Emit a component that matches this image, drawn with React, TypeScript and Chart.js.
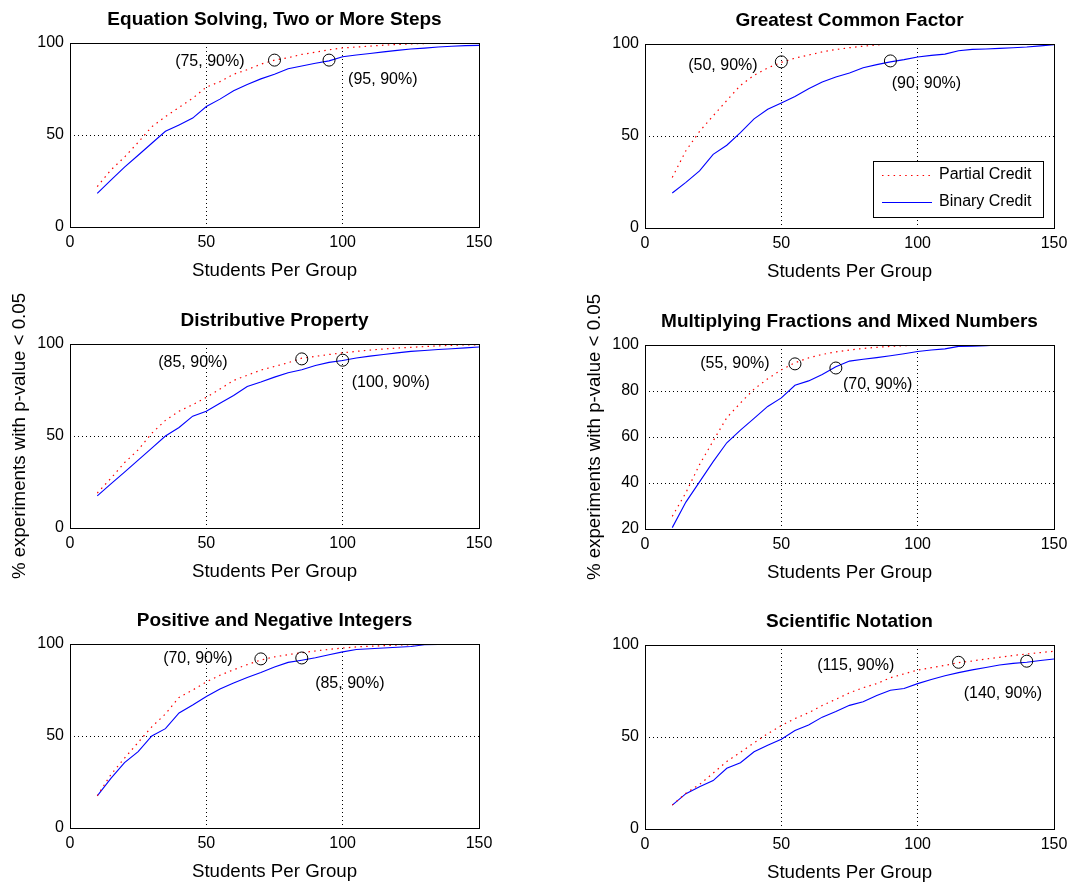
import React, { useEffect, useRef } from 'react';
import { Chart, registerables } from 'chart.js';

Chart.register(...registerables);

const FONT = "'Liberation Sans', Arial, Helvetica, sans-serif";

// ---------- data ----------
const groupSizes = [10, 15, 20, 25, 30, 35, 40, 45, 50, 55, 60, 65, 70, 75, 80, 85, 90, 95, 100, 105, 110, 115, 120, 125, 130, 135, 140, 145, 150];

const panelTitles = [
  'Equation Solving, Two or More Steps',
  'Greatest Common Factor',
  'Distributive Property',
  'Multiplying Fractions and Mixed Numbers',
  'Positive and Negative Integers',
  'Scientific Notation',
];

const partialEquation = [22, 31, 38, 46, 54.5, 60, 65, 70, 76, 79, 83, 85.5, 88.5, 90.7, 92, 93.8, 95, 96.3, 97.3, 97.8, 98.3, 98.8, 99.2, 99.5, 99.7, 99.9, 100, 100, 100];
const binaryEquation = [18.3, 25.5, 32.5, 39, 45.5, 52, 55.5, 59.2, 65.5, 69.5, 74, 77.5, 80.5, 83, 86, 87.5, 89, 90.3, 92.5, 93.5, 94.3, 95.2, 96, 96.7, 97.2, 97.8, 98.2, 98.6, 98.7];

const partialGcf = [27.5, 42, 52.5, 61, 69.3, 77.5, 83, 87, 90, 92.3, 94, 95.7, 97, 98, 98.8, 99.5, 100, 100, 100, 100, 100, 100, 100, 100, 100, 100, 100, 100, 100];
const binaryGcf = [19, 24.8, 31, 40, 45, 51.8, 59.3, 64.5, 68, 71.5, 75.7, 79.3, 82.1, 84.2, 87.1, 88.8, 90.3, 91.5, 92.9, 93.8, 94.5, 96.3, 97.1, 97.3, 97.6, 98, 98.4, 99, 99.6];

const partialDistributive = [19, 27, 35.5, 42.5, 51.5, 58.5, 63.5, 67, 71, 75.5, 80.2, 83, 85.8, 87.8, 89.8, 92.3, 93.3, 94.3, 95.2, 96, 96.7, 97.3, 97.8, 98.2, 98.6, 99, 99.3, 99.5, 99.6];
const binaryDistributive = [17.5, 24, 30.4, 36.9, 43.4, 50, 54.6, 60.8, 63.5, 67.8, 72, 76.9, 79.3, 82, 84.4, 86, 88.3, 90, 91, 92.4, 93.4, 94.3, 95.2, 96, 96.5, 97, 97.4, 97.9, 98.4];

const partialFractions = [25.5, 35.8, 48, 58.3, 68.4, 74.8, 80.8, 85.3, 89.2, 92.3, 94.4, 95.9, 97, 97.8, 98.5, 99, 99.4, 99.7, 100, 100, 100, 100, 100, 100, 100, 100, 100, 100, 100];
const binaryFractions = [20.6, 31.7, 40.5, 49.3, 57.5, 63, 68.1, 73.3, 77, 82.5, 84.4, 87.2, 90.5, 93, 93.8, 94.5, 95.3, 96.2, 97.2, 97.8, 98.3, 99.4, 99.5, 99.7, 100, 100, 100, 100, 100];

const partialIntegers = [17.5, 29, 38, 46.5, 55, 62, 71, 75, 79.4, 83, 86, 88.8, 91.3, 93, 94.2, 95.3, 96.2, 97.1, 97.8, 98.4, 98.8, 99.1, 99.4, 99.6, 99.8, 100, 100, 100, 100];
const binaryIntegers = [17.5, 27, 35.5, 41.5, 50, 54, 62.5, 66.8, 71.5, 75.5, 78.8, 81.8, 84.5, 87.5, 90, 91.2, 92.5, 94.2, 95.7, 97, 97.4, 97.8, 98.2, 98.6, 99.6, 99.7, 99.8, 99.8, 100];

const partialScientific = [13, 19.5, 24.2, 30.4, 36.7, 41.7, 46.8, 51.8, 56.3, 60, 63.2, 67.1, 70.5, 74, 76.8, 79, 82.2, 84.3, 86.4, 87.7, 88.9, 90.4, 91.3, 92.4, 93.3, 94.3, 95.1, 95.9, 96.6];
const binaryScientific = [13, 19.2, 23, 26.3, 33, 36, 42, 45.5, 48.8, 53.5, 56.5, 60.8, 63.8, 67.2, 69.2, 72.5, 75.4, 76.4, 79, 81.3, 83.3, 85, 86.5, 87.8, 89.1, 90, 90.6, 91.6, 92.4];

const partialSeries = [partialEquation, partialGcf, partialDistributive, partialFractions, partialIntegers, partialScientific];
const binarySeries = [binaryEquation, binaryGcf, binaryDistributive, binaryFractions, binaryIntegers, binaryScientific];

// 90% crossing markers
const crossingX = [[75, 95], [50, 90], [85, 100], [55, 70], [70, 85], [115, 140]];
const crossingY = [[90.7, 90.7], [90.3, 90.8], [91.9, 91.2], [91.8, 90], [91.9, 92.4], [90.6, 91.2]];
// annotation anchors (data coordinates)
const labelX = [[64, 102], [41.3, 90.5], [57.8, 103.3], [45.7, 72.6], [59.6, 89.9], [91.4, 116.9]];
const labelY = [[89.8, 80], [88.5, 78.6], [89.7, 79], [92, 83], [92, 78.5], [88.6, 73.8]];
const labelAlign: CanvasTextAlign[] = ['right', 'left'];

const yMins = [0, 0, 0, 20, 0, 0];
const ySteps = [50, 50, 50, 20, 50, 50];
const xTickStep = 50;

const seriesNames = ['Partial Credit', 'Binary Credit'];
const xTitle = 'Students Per Group';
const yTitle = '% experiments with p-value < 0.05';

// ---------- layout ----------
const TOP_SPACE = 60;
const CANVAS_W = 499;
const CANVAS_H = TOP_SPACE + 184 + 55;
const PLOT_TOPS = [[43, 344, 644], [44, 345, 645]];
const CANVAS_LEFTS = [0, 575];

const RED = 'rgb(255,0,0)';
const BLUE = 'rgb(0,0,255)';

function makeOverlay(i: number) {
  return {
    id: 'matlabOverlay',
    afterLayout(chart: any) {
      const tb = chart.titleBlock;
      if (tb) {
        tb.left = chart.chartArea.left;
        tb.right = chart.chartArea.right;
        tb.width = tb.right - tb.left;
      }
    },
    afterDatasetsDraw(chart: any) {
      const { ctx, chartArea: ca, scales } = chart;
      ctx.save();
      // axes box
      ctx.setLineDash([]);
      ctx.strokeStyle = '#000';
      ctx.lineWidth = 1;
      ctx.strokeRect(Math.round(ca.left) + 0.5, Math.round(ca.top) + 0.5, Math.round(ca.right - ca.left), Math.round(ca.bottom - ca.top));
      // annotations
      ctx.font = `16px ${FONT}`;
      ctx.fillStyle = '#000';
      ctx.textBaseline = 'middle';
      for (let k = 0; k < 2; k++) {
        ctx.textAlign = labelAlign[k];
        const txt = `(${crossingX[i][k]}, 90%)`;
        ctx.fillText(txt, scales.x.getPixelForValue(labelX[i][k]), scales.y.getPixelForValue(labelY[i][k]));
      }
      // legend (second panel only)
      if (i === 1) {
        const w = 170, h = 56;
        const right = Math.round(ca.right) - 11;
        const bottom = Math.round(ca.bottom) - 11;
        const left = right - w;
        const top = bottom - h;
        ctx.fillStyle = '#fff';
        ctx.fillRect(left, top, w, h);
        ctx.strokeStyle = '#000';
        ctx.lineWidth = 1;
        ctx.strokeRect(left + 0.5, top + 0.5, w, h);
        const rows = [top + 13.5, top + 40.5];
        const dsets = [chart.data.datasets[1], chart.data.datasets[2]];
        dsets.forEach((ds: any, r: number) => {
          ctx.save();
          ctx.strokeStyle = ds.borderColor;
          ctx.lineWidth = ds.borderWidth;
          ctx.setLineDash(ds.borderDash || []);
          ctx.beginPath();
          ctx.moveTo(left + 9, Math.round(rows[r]) + 0.5);
          ctx.lineTo(left + 59, Math.round(rows[r]) + 0.5);
          ctx.stroke();
          ctx.restore();
          ctx.fillStyle = '#000';
          ctx.textAlign = 'left';
          ctx.textBaseline = 'middle';
          ctx.font = `16px ${FONT}`;
          ctx.fillText(ds.label, left + 66, rows[r] + 0.5);
        });
      }
      ctx.restore();
    },
  };
}

function Panel({ index }: { index: number }) {
  const ref = useRef<HTMLCanvasElement>(null);
  const col = index % 2;
  const row = Math.floor(index / 2);
  const showYTitle = row === 1;
  const left = CANVAS_LEFTS[col];
  const top = PLOT_TOPS[col][row] - TOP_SPACE;

  useEffect(() => {
    const canvas = ref.current!;
    const chart = new Chart(canvas, {
      type: 'line',
      data: {
        datasets: [
          {
            label: '90% crossing',
            data: crossingX[index].map((x, k) => ({ x, y: crossingY[index][k] })),
            showLine: false,
            pointStyle: 'circle',
            pointRadius: 6,
            pointBorderWidth: 1,
            pointBorderColor: '#000',
            pointBackgroundColor: 'rgba(0,0,0,0)',
            borderColor: '#000',
            backgroundColor: 'rgba(0,0,0,0)',
          },
          {
            label: seriesNames[0],
            data: groupSizes.map((x, k) => ({ x, y: partialSeries[index][k] })),
            borderColor: RED,
            borderWidth: 1.2,
            borderDash: [1.5, 4.3],
            pointRadius: 0,
            tension: 0,
            fill: false,
          },
          {
            label: seriesNames[1],
            data: groupSizes.map((x, k) => ({ x, y: binarySeries[index][k] })),
            borderColor: BLUE,
            borderWidth: 1.1,
            pointRadius: 0,
            tension: 0,
            fill: false,
          },
        ],
      },
      options: {
        responsive: false,
        animation: false,
        events: [],
        layout: { padding: { left: 0, right: 20, top: 0, bottom: 0 } },
        plugins: {
          legend: { display: false },
          tooltip: { enabled: false },
          title: {
            display: true,
            text: panelTitles[index],
            color: '#000',
            font: { family: FONT, size: 19, weight: 'bold', lineHeight: 1.2 },
            padding: { top: 8.5 + (TOP_SPACE - 43), bottom: 11.7 },
          },
        },
        scales: {
          x: {
            type: 'linear',
            min: 0,
            max: 150,
            afterFit: (s: any) => { s.height = 55; },
            ticks: { stepSize: xTickStep, color: '#000', padding: 6, font: { family: FONT, size: 16 } },
            grid: { color: '#000', lineWidth: 1, drawTicks: false },
            border: { display: false, dash: [1, 3] },
            title: { display: true, text: xTitle, color: '#000', font: { family: FONT, size: 18.7, lineHeight: 1.2 }, padding: { top: 0, bottom: 0 } },
          },
          y: {
            type: 'linear',
            min: yMins[index],
            max: 100,
            afterFit: (s: any) => { s.width = 70; },
            ticks: { stepSize: ySteps[index], color: '#000', padding: 6, font: { family: FONT, size: 16 } },
            grid: { color: '#000', lineWidth: 1, drawTicks: false },
            border: { display: false, dash: [1, 3] },
            title: { display: showYTitle, text: yTitle, color: '#000', font: { family: FONT, size: 18.7, lineHeight: 1.2 }, padding: { top: 9, bottom: 0 } },
          },
        },
      } as any,
      plugins: [makeOverlay(index) as any],
    });
    return () => chart.destroy();
  }, [index]);

  return (
    <canvas
      ref={ref}
      width={CANVAS_W}
      height={CANVAS_H}
      style={{ position: 'absolute', left, top, width: CANVAS_W, height: CANVAS_H }}
    />
  );
}

export default function App() {
  return (
    <div style={{ position: 'absolute', left: 0, top: 0, width: 1068, height: 882, overflow: 'hidden', background: '#fff' }}>
      {panelTitles.map((_, i) => (
        <Panel key={i} index={i} />
      ))}
    </div>
  );
}
